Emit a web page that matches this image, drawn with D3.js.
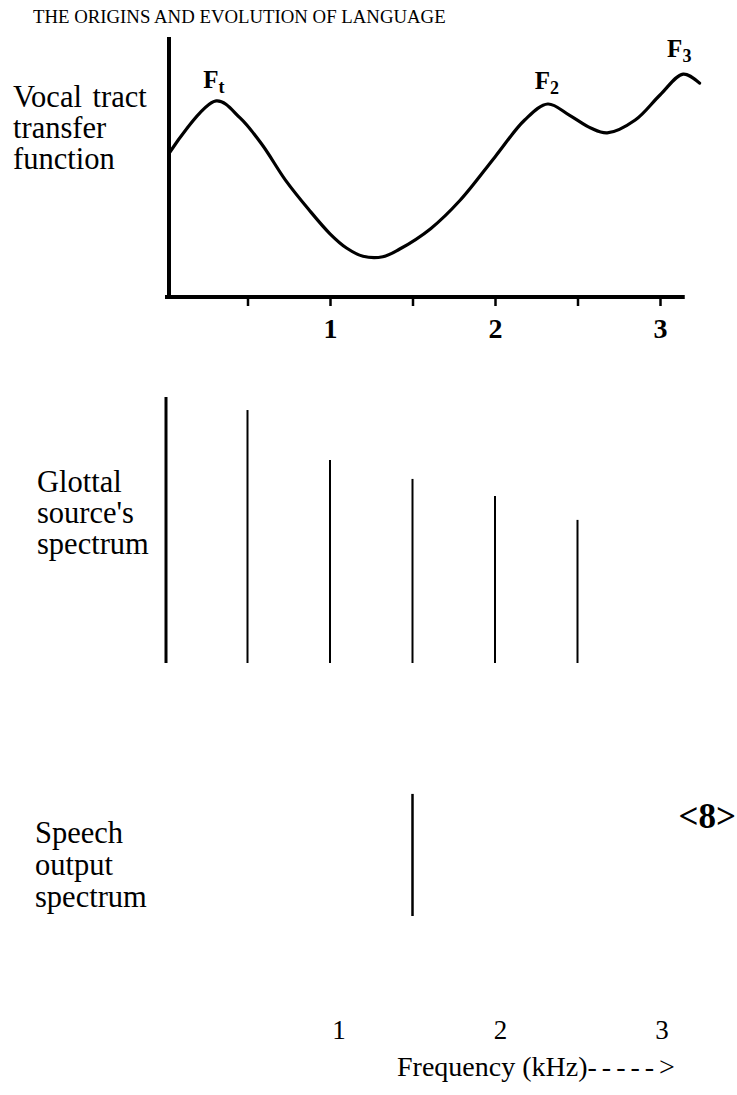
<!DOCTYPE html>
<html>
<head>
<meta charset="utf-8">
<script src="https://cdn.jsdelivr.net/npm/d3@7"></script>
<style>
  html, body { margin: 0; padding: 0; background: #fff; }
  svg { display: block; font-family: "Liberation Serif", "Times New Roman", serif; }
</style>
</head>
<body>
<svg id="fig" width="737" height="1095"></svg>
<script>
// Vocal tract transfer function (frequency in kHz, relative level)
const tractFreq  = [0.03, 0.31, 0.455, 0.59, 0.73, 0.87, 1.0, 1.1, 1.2, 1.32, 1.42, 1.61, 1.79, 2.0, 2.18, 2.32, 2.45, 2.58, 2.68, 2.85, 3.0, 3.14, 3.24];
const tractLevel = [56.2, 76, 69.4, 58.9, 45.3, 34, 24.5, 19, 15.8, 15.6, 18.5, 26.5, 37.6, 54.3, 68.6, 74.8, 70.5, 65.5, 63.6, 68.6, 78.3, 86.4, 82.9];

// Formant labels
const formantNames = ["F", "F", "F"];
const formantSubs  = ["t", "2", "3"];
const formantFreq  = [0.31, 2.32, 3.14];

// Glottal source harmonics
const harmonicFreq  = [0.5, 1, 1.5, 2, 2.5];
const harmonicLevel = [95.1, 76.3, 69.2, 62.8, 53.8];

// Speech output spectrum
const outputFreq  = [1.5];
const outputLevel = [45.9];

// Axis ticks
const topTicks    = [0.5, 1, 1.5, 2, 2.5, 3];
const bottomTicks = [1, 2, 3];

const svg = d3.select("#fig");

const x = d3.scaleLinear().domain([0, 3]).range([165, 660]);
const yTop = d3.scaleLinear().domain([0, 100]).range([297, 39]);
const yMid = d3.scaleLinear().domain([0, 100]).range([663, 397]);
const yBot = d3.scaleLinear().domain([0, 100]).range([916, 650]);
const xLab = d3.scaleLinear().domain([1, 3]).range([339, 662]);

// Running header
svg.append("text").attr("x", 33).attr("y", 23)
  .attr("font-size", 18.8).text("THE ORIGINS AND EVOLUTION OF LANGUAGE");

// Panel labels
function label(lines, x0, y0, step, size, wordSpacing) {
  const t = svg.append("text").attr("font-size", size).attr("word-spacing", wordSpacing || 0);
  lines.forEach((s, i) => t.append("tspan").attr("x", x0).attr("y", y0 + i * step).text(s));
}
label(["Vocal tract", "transfer", "function"], 13, 107, 31, 30.5, 3);
label(["Glottal", "source's", "spectrum"], 37, 492, 31, 30.5);
label(["Speech", "output", "spectrum"], 35, 843, 32, 30.5);

// ---- Top panel: transfer function ----
const tractPanel = svg.append("g");
tractPanel.append("line")
  .attr("x1", 169).attr("x2", 169).attr("y1", 37).attr("y2", 299)
  .attr("stroke", "#000").attr("stroke-width", 4);
tractPanel.append("line")
  .attr("x1", 165).attr("x2", x(3.15)).attr("y1", yTop(0)).attr("y2", yTop(0))
  .attr("stroke", "#000").attr("stroke-width", 4);

const xAxis = d3.axisBottom(x).tickValues(topTicks).tickSize(9)
  .tickFormat(d => Number.isInteger(d) ? d3.format("d")(d) : "");
const ax = tractPanel.append("g").attr("transform", `translate(0,${yTop(0)})`).call(xAxis);
ax.select(".domain").remove();
ax.selectAll(".tick line").attr("stroke", "#000").attr("stroke-width", 2.5);
ax.selectAll(".tick text")
  .attr("y", 41).attr("dy", 0)
  .attr("fill", "#000")
  .attr("font-family", "Liberation Serif, serif")
  .attr("font-size", 28).attr("font-weight", "bold");

const tract = tractFreq.map((f, i) => [f, tractLevel[i]]);
tractPanel.append("path").datum(tract)
  .attr("fill", "none").attr("stroke", "#000").attr("stroke-width", 3.2)
  .attr("stroke-linejoin", "round").attr("stroke-linecap", "round")
  .attr("d", d3.line().x(d => x(d[0])).y(d => yTop(d[1])).curve(d3.curveCatmullRom.alpha(0.5)));

// Formant peak labels
const fl = tractPanel.selectAll("text.formant").data(formantFreq).enter().append("text")
  .attr("class", "formant")
  .attr("x", (d, i) => x(d) - [13, 13, 16][i])
  .attr("y", (d, i) => yTop(tractLevel[tractFreq.indexOf(d)]) - [13, 15, 17][i])
  .attr("font-size", 25).attr("font-weight", "bold");
fl.append("tspan").text((d, i) => formantNames[i]);
fl.append("tspan").attr("dy", 5).attr("font-size", 18).text((d, i) => formantSubs[i]);

// ---- Middle panel: glottal source harmonics ----
svg.append("line")
  .attr("x1", x(0) + 1).attr("x2", x(0) + 1).attr("y1", yMid(100)).attr("y2", yMid(0))
  .attr("stroke", "#000").attr("stroke-width", 3);
svg.selectAll("line.harm").data(harmonicFreq).enter().append("line")
  .attr("class", "harm")
  .attr("x1", d => x(d)).attr("x2", d => x(d))
  .attr("y1", (d, i) => yMid(harmonicLevel[i])).attr("y2", yMid(0))
  .attr("stroke", "#000").attr("stroke-width", 2);

// ---- Bottom panel: output spectrum ----
svg.selectAll("line.out").data(outputFreq).enter().append("line")
  .attr("class", "out")
  .attr("x1", d => x(d)).attr("x2", d => x(d))
  .attr("y1", (d, i) => yBot(outputLevel[i])).attr("y2", yBot(0))
  .attr("stroke", "#000").attr("stroke-width", 2.5);

// Page marker
svg.append("text").attr("x", 736).attr("y", 828)
  .attr("text-anchor", "end").attr("font-size", 35).attr("font-weight", "bold")
  .text("<8>");

// Frequency scale under the output spectrum
svg.selectAll("text.flab").data(bottomTicks).enter().append("text")
  .attr("class", "flab")
  .attr("x", d => xLab(d)).attr("y", 1039)
  .attr("text-anchor", "middle").attr("font-size", 27)
  .text(d => d);
const freqTitle = svg.append("text").attr("x", 397).attr("y", 1076).attr("font-size", 28);
freqTitle.append("tspan").text("Frequency (kHz)");
freqTitle.append("tspan").attr("letter-spacing", 5).text("----->");
</script>
</body>
</html>
